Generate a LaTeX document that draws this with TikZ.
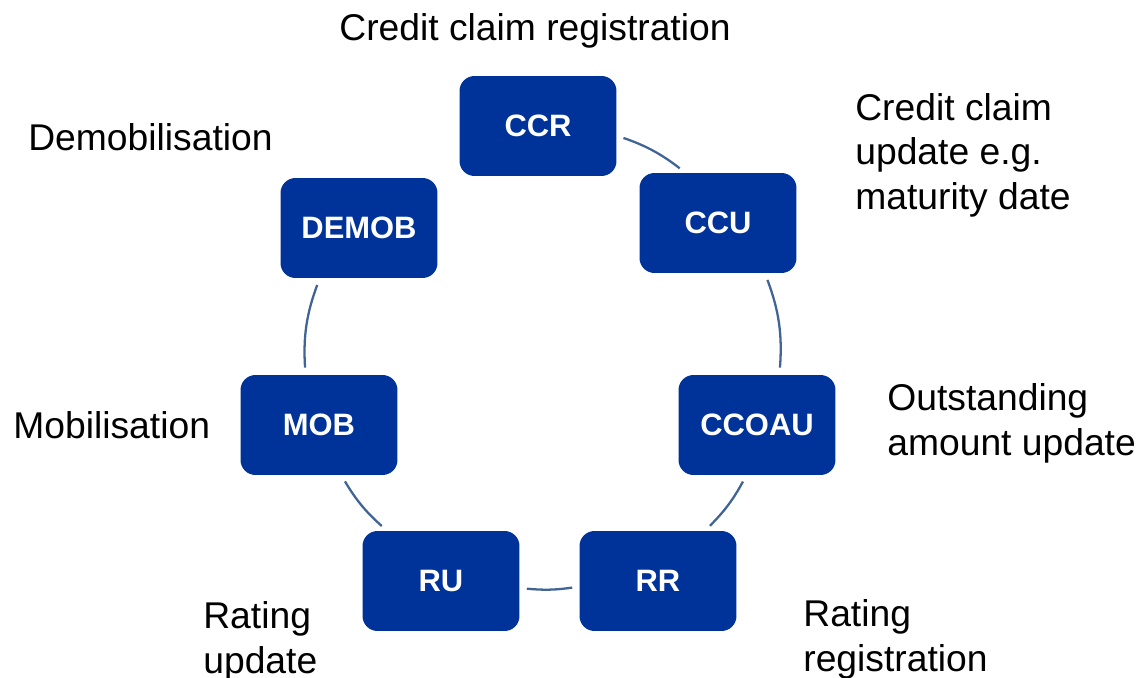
\documentclass[tikz,border=0pt]{standalone}
\usepackage{fontspec}
\setmainfont{Liberation Sans}
\definecolor{boxblue}{RGB}{0,51,153}
\definecolor{linkblue}{RGB}{65,100,150}

\begin{document}
\begin{tikzpicture}[x=0.02cm,y=0.02cm,
    stage/.style={fill=boxblue,rounded corners=0.3cm,minimum width=3.14cm,minimum height=2cm,inner sep=0pt,text=white,font=\fontsize{17.6}{21}\selectfont\bfseries},
    caption/.style={anchor=base west,align=left,inner sep=0pt,font=\fontsize{21.2}{25.2}\selectfont},
    link/.style={draw=linkblue,line width=1.3pt,shorten <=4pt,shorten >=4pt}]
  \useasboundingbox (0,0) rectangle (1137,-677);
  \node[stage] (ccr) at (538,-126) {CCR};
  \node[stage] (ccu) at (718,-223) {CCU};
  \node[stage] (ccoau) at (757,-425) {CCOAU};
  \node[stage] (rr) at (658,-581) {RR};
  \node[stage] (ru) at (441,-581) {RU};
  \node[stage] (mob) at (319,-425) {MOB};
  \node[stage] (demob) at (359,-228) {DEMOB};
  \draw[link] (ccr.-7) to[bend left=9.5] (ccu.123);
  \draw[link] (ccu.-47) to[bend left=12.5] (ccoau.66);
  \draw[link] (ccoau.-102) to[bend left=8.5] (rr.47);
  \draw[link] (rr.184) to[bend left=7.3] (ru.-5);
  \draw[link] (ru.137) to[bend left=9] (mob.-66);
  \draw[link] (mob.105) to[bend left=12] (demob.232);
  \node[caption,anchor=base] (ccrtxt) at (535,-40) {Credit claim registration};
  \node[caption] (ccutxt) at (855,-209) {Credit claim\\update e.g.\\maturity date};
  \node[caption] (ccoautxt) at (887,-455) {Outstanding\\amount update};
  \node[caption] (rrtxt) at (803,-671) {Rating\\registration};
  \node[caption] (rutxt) at (203,-673) {Rating\\update};
  \node[caption] (mobtxt) at (13,-438) {Mobilisation};
  \node[caption] (demobtxt) at (28,-150) {Demobilisation};
\end{tikzpicture}
\end{document}
